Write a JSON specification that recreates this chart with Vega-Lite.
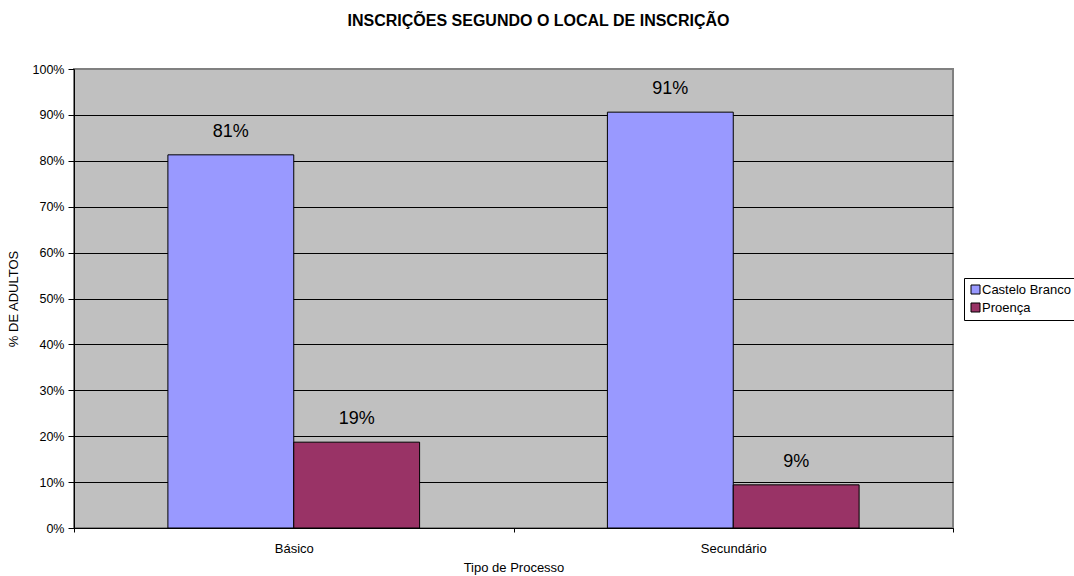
{
  "$schema": "https://vega.github.io/schema/vega-lite/v6.json",
  "autosize": "none",
  "width": 879,
  "height": 459,
  "padding": {"left": 74, "top": 69, "right": 121, "bottom": 48},
  "background": "white",
  "title": {
    "text": "INSCRIÇÕES SEGUNDO O LOCAL DE INSCRIÇÃO",
    "font": "Liberation Sans",
    "fontSize": 16,
    "fontWeight": "bold",
    "color": "black",
    "anchor": "middle",
    "frame": "group",
    "dx": 25,
    "offset": 34
  },
  "config": {
    "view": {"fill": "#C0C0C0", "stroke": "#808080", "strokeWidth": 2},
    "font": "Liberation Sans"
  },
  "data": {
    "values": [
      {"tipo": "Básico", "local": "Castelo Branco", "valor": 0.813, "label": "81%"},
      {"tipo": "Básico", "local": "Proença", "valor": 0.187, "label": "19%"},
      {"tipo": "Secundário", "local": "Castelo Branco", "valor": 0.906, "label": "91%"},
      {"tipo": "Secundário", "local": "Proença", "valor": 0.094, "label": "9%"}
    ]
  },
  "encoding": {
    "x": {
      "field": "tipo",
      "type": "nominal",
      "title": "Tipo de Processo",
      "scale": {"paddingInner": 0, "paddingOuter": 0},
      "axis": {
        "labelAngle": 0,
        "labelFont": "Liberation Sans",
        "labelFontSize": 13,
        "labelColor": "black",
        "labelPadding": 10,
        "titleFont": "Liberation Sans",
        "titleFontSize": 13,
        "titleFontWeight": "normal",
        "titleColor": "black",
        "titlePadding": 6,
        "domainColor": "black",
        "tickColor": "black",
        "tickSize": 4,
        "tickBand": "extent",
        "grid": false
      }
    },
    "xOffset": {
      "field": "local",
      "type": "nominal",
      "scale": {"paddingInner": 0, "paddingOuter": 0.746}
    },
    "y": {
      "field": "valor",
      "type": "quantitative",
      "title": "% DE ADULTOS",
      "scale": {"domain": [0, 1]},
      "axis": {
        "format": ".0%",
        "values": [0, 0.1, 0.2, 0.3, 0.4, 0.5, 0.6, 0.7, 0.8, 0.9, 1],
        "labelOverlap": false,
        "labelFont": "Liberation Sans",
        "labelFontSize": 12.5,
        "labelColor": "black",
        "labelPadding": 4,
        "tickSize": 6,
        "tickColor": "black",
        "domainColor": "black",
        "grid": true,
        "gridColor": {"condition": {"test": "datum.value == 1", "value": "#808080"}, "value": "black"},
        "gridOpacity": 1,
        "titleFont": "Liberation Sans",
        "titleFontSize": 13,
        "titleFontWeight": "normal",
        "titleColor": "black",
        "titlePadding": 12
      }
    }
  },
  "layer": [
    {
      "mark": {"type": "bar", "stroke": "black", "strokeWidth": 1},
      "encoding": {
        "color": {
          "field": "local",
          "type": "nominal",
          "scale": {"domain": ["Castelo Branco", "Proença"], "range": ["#9999FF", "#993366"]},
          "legend": {
            "title": null,
            "orient": "none",
            "legendX": 890,
            "legendY": 209,
            "strokeColor": "black",
            "fillColor": "white",
            "padding": 5,
            "symbolType": "square",
            "symbolSize": 81,
            "symbolStrokeColor": "black",
            "symbolStrokeWidth": 1,
            "labelFont": "Liberation Sans",
            "labelFontSize": 13,
            "labelColor": "black",
            "labelOffset": 0,
            "rowPadding": 4
          }
        }
      }
    },
    {
      "mark": {"type": "text", "fontSize": 18, "font": "Liberation Sans", "color": "black", "baseline": "middle", "dy": -23},
      "encoding": {
        "text": {"field": "label"}
      }
    }
  ]
}
